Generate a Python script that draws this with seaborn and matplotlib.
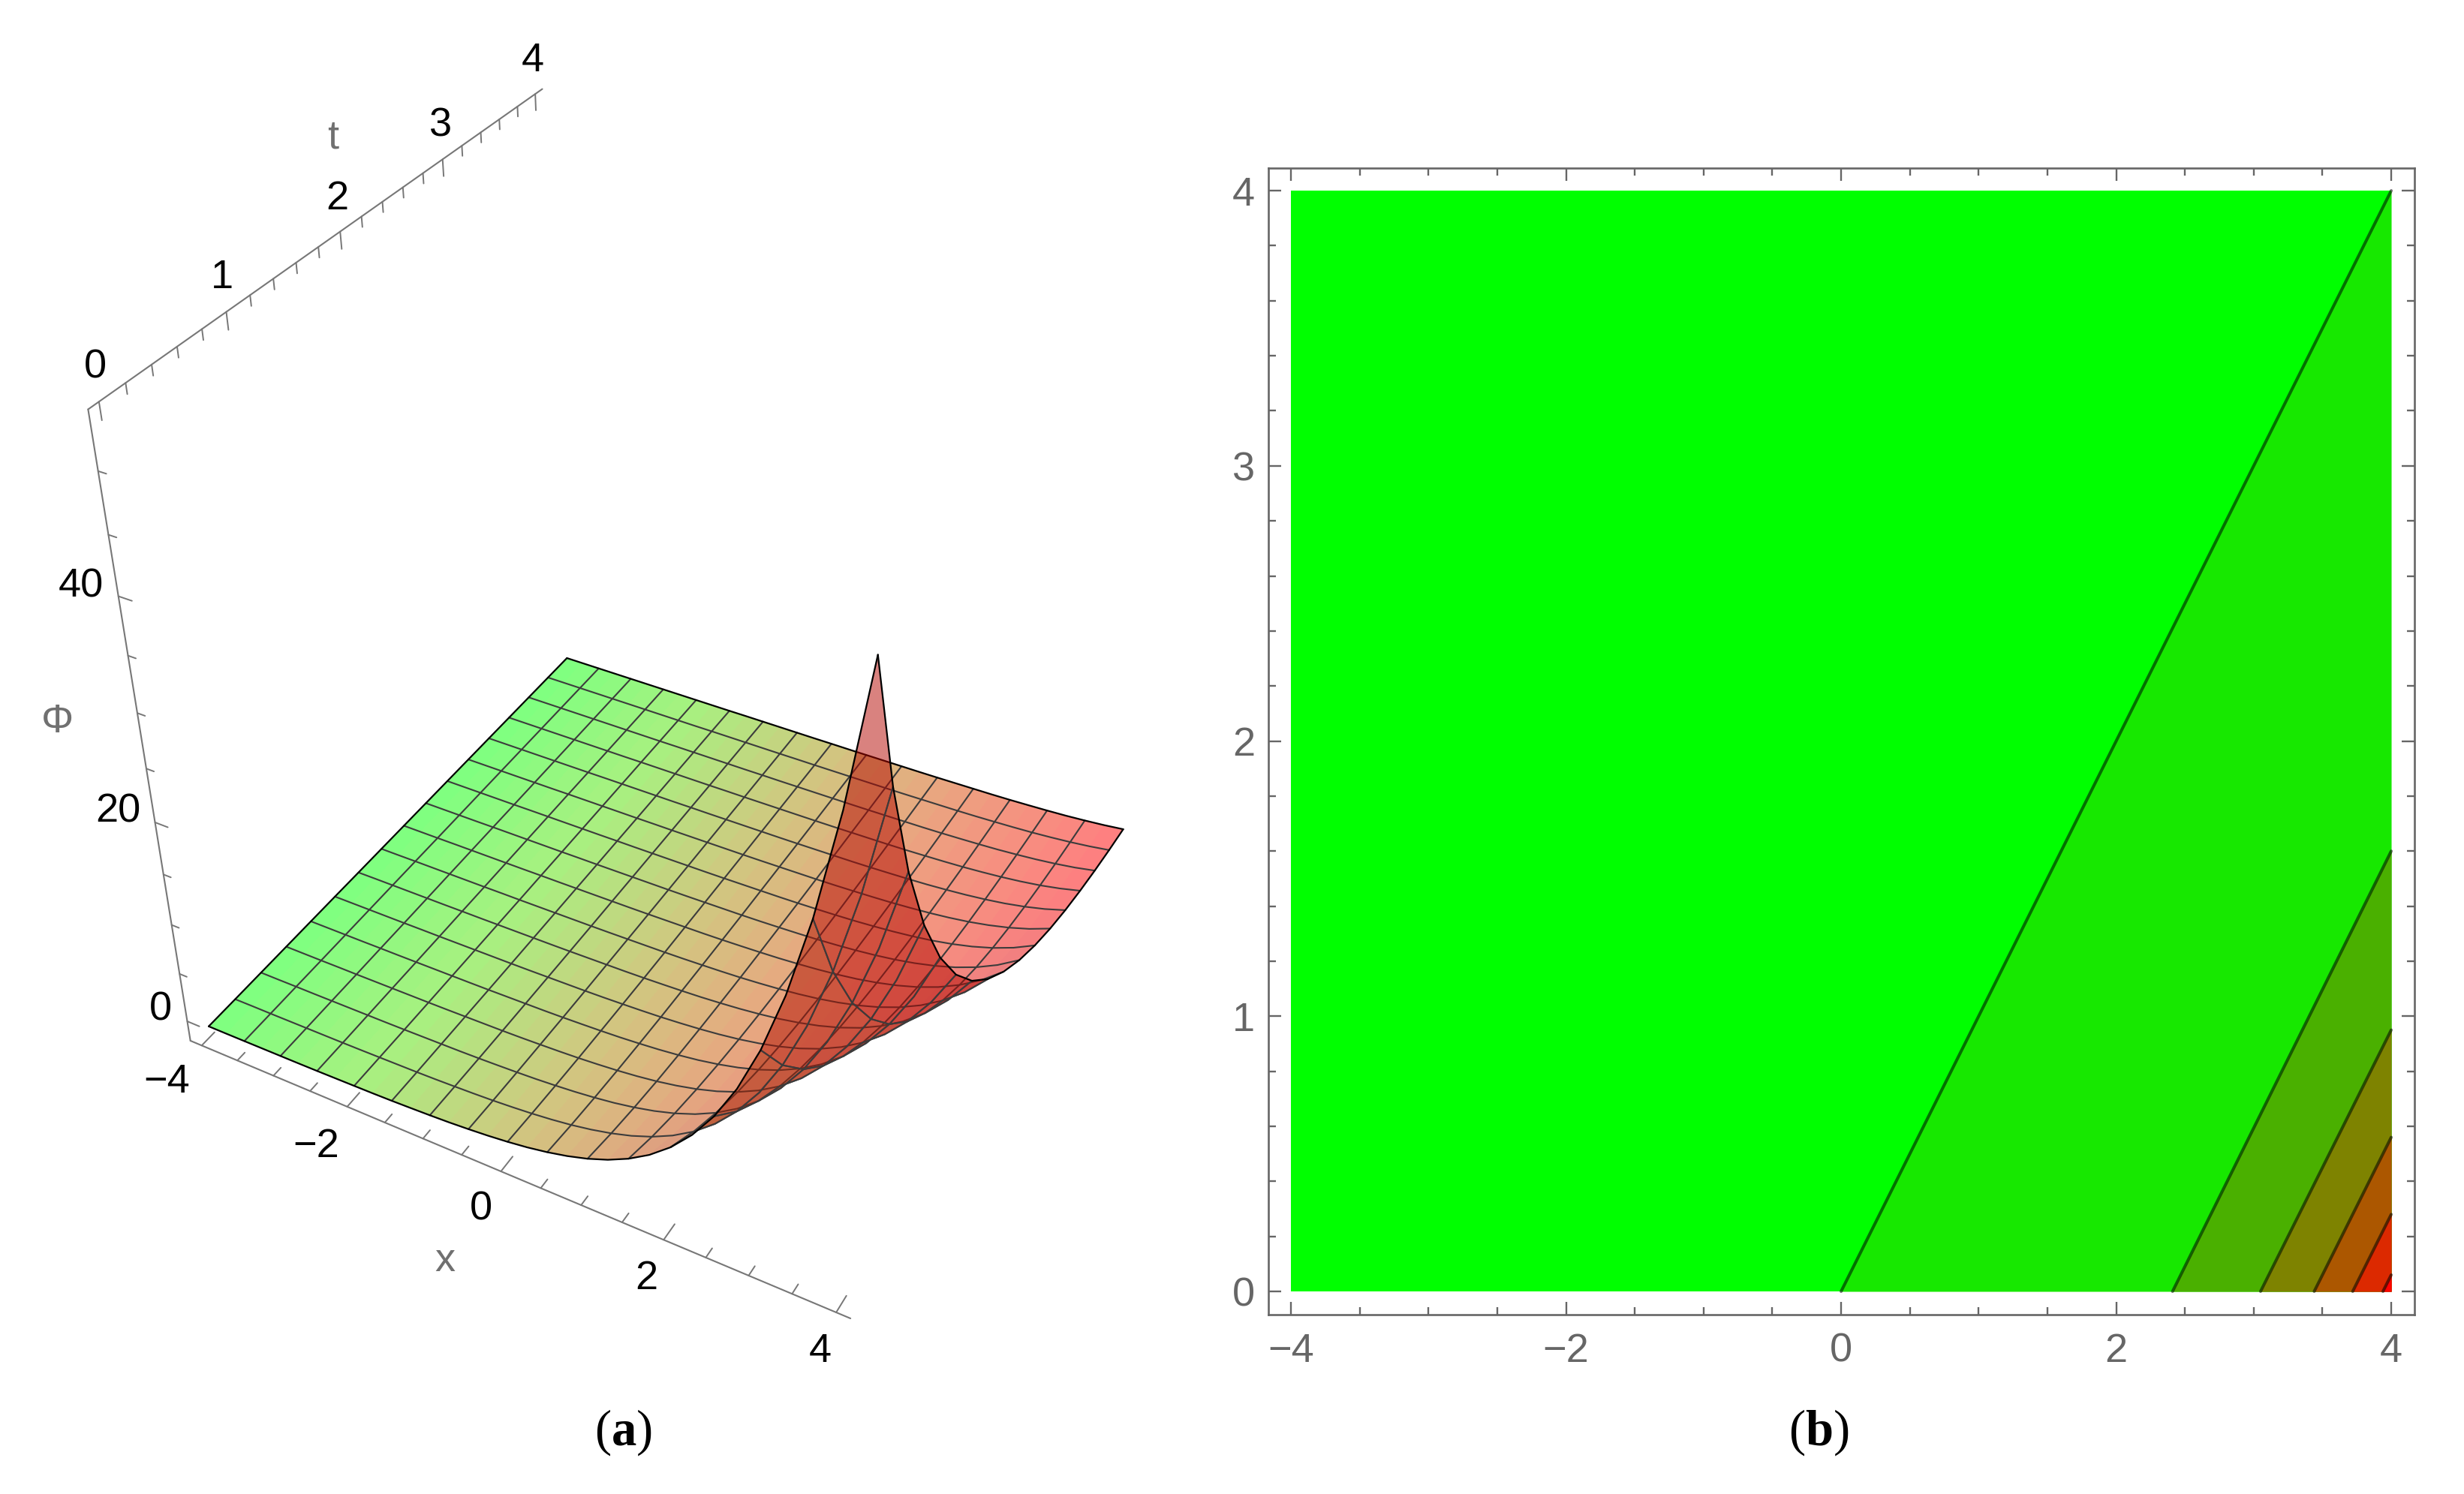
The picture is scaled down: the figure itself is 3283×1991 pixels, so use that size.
import numpy as np
import pandas as pd
import matplotlib
matplotlib.use("Agg")
import matplotlib.pyplot as plt
import seaborn as sns

# --- data ---
# phi as function of u = x - t, u runs -8 .. 4 in steps of 0.25
u_step = 0.25
u_start = -8.0
phi_of_u = [-1.00, -1.00, -1.00, -1.00, -1.00, -1.00, -1.00, -1.00, -1.00, -1.00, -1.00, -0.99,
            -0.99, -0.99, -0.99, -0.99, -0.98, -0.98, -0.97, -0.96, -0.95, -0.94, -0.92, -0.89,
            -0.86, -0.83, -0.78, -0.71, -0.63, -0.53, -0.39, -0.22, 0.00, 0.28, 0.65, 1.12,
            1.72, 2.49, 3.48, 4.75, 6.39, 8.49, 11.18, 14.64, 19.09, 24.79, 32.12, 41.52, 53.60]

x_grid = np.arange(-4, 4.01, 0.25)
t_grid = np.arange(0, 4.01, 0.25)
x_mesh = np.arange(-4, 4.01, 0.5)
t_mesh = np.arange(0, 4.01, 0.25)

# surface colour along x = -4, -2, 0, 2, 4
surface_colors = ["#00ff00", "#51e100", "#a19100", "#dc4100", "#ff0000"]

# contour panel: where each line meets t=0 and x=4
contour_x_at_t0 = [0.0, 2.41, 3.05, 3.44, 3.72, 3.94]
contour_t_at_x4 = [4.0, 1.60, 0.95, 0.56, 0.28, 0.06]
band_colors = ["#00ff00", "#17e800", "#4ab000", "#7e8300", "#ac5700", "#dc2900", "#ff0000"]

x_ticks_3d = np.arange(-4, 4.01, 0.5)
t_ticks_3d = np.arange(0, 4.01, 0.2)
phi_ticks_3d = np.arange(0, 50.1, 5)

x_labels_3d = ["\u22124", "\u22122", "0", "2", "4"]
t_labels_3d = ["0", "1", "2", "3", "4"]
phi_labels_3d = ["0", "20", "40"]
x_label_px = [(222, 1442), (421, 1528), (641, 1612), (861, 1704), (1093, 1801)]
t_label_px = [(127, 489), (296, 370), (449, 265), (587, 168), (710, 81)]
phi_label_px = [(214, 1345), (157, 1082), (108, 782)]

# box of the 3d plot
xlo, xhi = -4.16, 4.16
tlo, thi = -0.08, 4.08
plo, phi_hi = -2.09, 54.69

# camera calibration: box/surface landmarks and where they sit in the picture
calib_world = np.array([
    [xlo, tlo, plo], [xhi, tlo, plo], [xlo, tlo, phi_hi], [xlo, thi, phi_hi],
    [-4, 0, -0.98], [-4, 4, -1.0], [4, 0, 53.6], [4, 4, 0.0],
    [-2, tlo, plo], [0, tlo, plo], [2, tlo, plo],
    [xlo, 1, phi_hi], [xlo, 2, phi_hi], [xlo, 3, phi_hi],
    [xlo, tlo, 40], [xlo, tlo, 20], [xlo, tlo, 0],
])
calib_px = np.array([
    [253, 1387], [1133, 1758], [118, 544], [723, 118],
    [278, 1366], [755, 879], [1169, 875], [1497, 1103],
    [463, 1472], [668, 1562], [884, 1652],
    [302, 415], [453, 309], [589, 213],
    [158, 794], [206, 1096], [250, 1364],
], dtype=float)

W, H = 3283, 1991
sns.set_theme(style="white")
plt.rcParams["font.family"] = ["Liberation Sans", "DejaVu Sans"]
plt.rcParams["mathtext.fontset"] = "custom"
plt.rcParams["mathtext.rm"] = "Liberation Serif"
plt.rcParams["mathtext.bf"] = "Liberation Serif:bold"

fig = plt.figure(figsize=(W / 100, H / 100), dpi=100, facecolor="white")


def px_text(px, py, s, **kw):
    fig.text(px / W, 1 - py / H, s, ha="center", va="center", **kw)


# --- (a) surface ---
ax3 = fig.add_axes([0, 0, H / W, 1], projection="3d", computed_zorder=False)
ax3.set_axis_off()
ax3.apply_aspect()

# solve the camera (u, v, w) from the landmarks
rows, rhs = [], []
for (X, Y, Z), (u, v) in zip(calib_world, calib_px):
    rows.append([X, Y, Z, 1, 0, 0, 0, 0, -u * X, -u * Y, -u * Z])
    rows.append([0, 0, 0, 0, X, Y, Z, 1, -v * X, -v * Y, -v * Z])
    rhs += [u, v]
p = np.linalg.lstsq(np.array(rows), np.array(rhs), rcond=None)[0]
u_row, v_row, w_row = p[:4], p[4:8], np.r_[p[8:11], 1.0]

# picture pixels -> the 2d view limits of the 3d axes
inv = ax3.transData.inverted()
v00 = inv.transform((0, H))
v10 = inv.transform((1000, H))
v01 = inv.transform((0, H - 1000))
M = np.array([
    v00[0] * w_row + (v10[0] - v00[0]) / 1000 * u_row,
    v00[1] * w_row + (v01[1] - v00[1]) / 1000 * v_row,
    [0, 0, 0, -1.0],
    w_row,
])
ax3.get_proj = lambda: M

X, T = np.meshgrid(x_grid, t_grid)
idx = np.rint((X - T - u_start) / u_step).astype(int)
Phi = np.array(phi_of_u)[idx]

# cells seen from underneath (the fold in front) stay see-through, the sheet behind
# them is painted flat so that its small faces leave no seams
hom = np.stack([X, T, Phi, np.ones_like(X)], axis=-1)
pw = hom @ w_row
pu = (hom @ u_row / pw)[:, ::2]
pv = (hom @ v_row / pw)[:, ::2]
area = ((pu[:-1, :-1] * pv[:-1, 1:] - pu[:-1, 1:] * pv[:-1, :-1])
        + (pu[:-1, 1:] * pv[1:, 1:] - pu[1:, 1:] * pv[:-1, 1:])
        + (pu[1:, 1:] * pv[1:, :-1] - pu[1:, :-1] * pv[1:, 1:])
        + (pu[1:, :-1] * pv[:-1, :-1] - pu[:-1, :-1] * pv[1:, :-1]))
flipped = np.repeat(area * area[-1, 0] < 0, 2, axis=1)

pal = np.array(sns.blend_palette(surface_colors, n_colors=len(x_grid) - 1))
slope = np.diff(Phi, axis=1)[:-1, :] / 0.25 * 8 / 57
shade = 1 - 0.3 * (1 - 1 / (1 + slope ** 2))
base = pal[None, :, :] * shade[..., None]

fc_back = np.zeros(shade.shape + (4,))
fc_back[..., :3] = 0.5 * base + 0.5
fc_back[..., 3] = ~flipped
ax3.plot_surface(X, T, Phi, facecolors=fc_back, rstride=1, cstride=1, shade=False,
                 linewidth=0, antialiased=False, zorder=1)

fc_front = np.zeros(shade.shape + (4,))
fc_front[..., :3] = pal[None, :, :] * 0.72
fc_front[..., 3] = 0.5 * flipped
ax3.plot_surface(X, T, Phi, facecolors=fc_front, rstride=1, cstride=2, shade=False,
                 linewidth=0, antialiased=False, zorder=1.5)


def front_only(zs, seg_front):
    # keep the vertices that touch a segment on the front sheet
    keep = np.r_[seg_front, False] | np.r_[False, seg_front]
    return np.where(keep, zs, np.nan)


# every mesh line goes under the see-through sheet, the front parts again on top of it
mesh_color = "#3c3c3c"
for xm in x_mesh[1:-1]:
    j = np.argmin(abs(x_grid - xm))
    ax3.plot(X[:, j], T[:, j], Phi[:, j], color=mesh_color, lw=1.5, zorder=1.2)
    seg = flipped[:, j - 1] | flipped[:, j]
    ax3.plot(X[:, j], T[:, j], front_only(Phi[:, j], seg), color=mesh_color, lw=1.5, zorder=2)
for tm in t_mesh[1:-1]:
    i = np.argmin(abs(t_grid - tm))
    ax3.plot(X[i], T[i], Phi[i], color=mesh_color, lw=1.5, zorder=1.2)
    seg = flipped[i - 1] | flipped[i]
    ax3.plot(X[i], T[i], front_only(Phi[i], seg), color=mesh_color, lw=1.5, zorder=2)

ax3.plot(X[:, 0], T[:, 0], Phi[:, 0], color="black", lw=1.6, zorder=1.3)
ax3.plot(X[-1], T[-1], Phi[-1], color="black", lw=1.6, zorder=1.3)
ax3.plot(X[:, -1], T[:, -1], Phi[:, -1], color="black", lw=1.6, zorder=3)
ax3.plot(X[0], T[0], Phi[0], color="black", lw=1.6, zorder=3)

axis_color = "#777777"
ax3.plot([xlo, xhi], [tlo, tlo], [plo, plo], color=axis_color, lw=1.5, zorder=4)
ax3.plot([xlo, xlo], [tlo, tlo], [plo, phi_hi], color=axis_color, lw=1.5, zorder=4)
ax3.plot([xlo, xlo], [tlo, thi], [phi_hi, phi_hi], color=axis_color, lw=1.5, zorder=4)
for v in x_ticks_3d:
    L = 0.12 if abs(v % 2) < 1e-6 else 0.07
    ax3.plot([v, v], [tlo, tlo + L], [plo, plo], color=axis_color, lw=1.4, zorder=4)
for v in t_ticks_3d:
    L = 1.4 if abs(v - round(v)) < 1e-6 else 0.85
    ax3.plot([xlo, xlo], [v, v], [phi_hi, phi_hi - L], color=axis_color, lw=1.4, zorder=4)
for v in phi_ticks_3d:
    L = 0.17 if v % 20 == 0 else 0.1
    ax3.plot([xlo, xlo + L], [tlo, tlo], [v, v], color=axis_color, lw=1.4, zorder=4)

fs = 39
for (px, py), s in zip(x_label_px + t_label_px + phi_label_px,
                       x_labels_3d + t_labels_3d + phi_labels_3d):
    px_text(px, py, s, fontsize=fs, color="black")
px_text(593, 1680, "x", fontsize=fs, color="#707070")
px_text(444, 183, "t", fontsize=fs, color="#707070")
px_text(76, 962, "\u03a6", fontsize=fs, color="#707070")

# --- (b) contours ---
left, right, top, bottom = 1690, 3217, 224, 1752
ax = fig.add_axes([left / W, 1 - bottom / H, (right - left) / W, (bottom - top) / H])
ax.fill_between([-4, 4], [0, 0], [4, 4], color=band_colors[0], lw=0)
for x0, t4, col in zip(contour_x_at_t0, contour_t_at_x4, band_colors[1:]):
    ax.fill_between([x0, 4], [0, 0], [0, t4], color=col, lw=0)

lines = pd.DataFrame({
    "x": [v for x0 in contour_x_at_t0 for v in (x0, 4.0)],
    "t": [v for t4 in contour_t_at_x4 for v in (0.0, t4)],
    "level": [i for i in range(len(contour_x_at_t0)) for _ in range(2)],
})
sns.lineplot(data=lines, x="x", y="t", units="level", estimator=None, sort=False,
             color="black", alpha=0.55, linewidth=2.9, legend=False, ax=ax)

ax.set_xlim(-4.164, 4.169)
ax.set_ylim(-0.0845, 4.082)
ax.set_xlabel("")
ax.set_ylabel("")
ax.set_xticks([-4, -2, 0, 2, 4], ["\u22124", "\u22122", "0", "2", "4"])
ax.set_yticks([0, 1, 2, 3, 4], ["0", "1", "2", "3", "4"])
ax.set_xticks(np.arange(-4, 4.01, 0.5), minor=True)
ax.set_yticks(np.arange(0, 4.01, 0.2), minor=True)
gray = "#666666"
ax.tick_params(which="both", direction="in", top=True, right=True, bottom=True, left=True,
               color=gray, labelcolor=gray, labelsize=fs)
ax.tick_params(which="major", length=12.2, width=1.7)
ax.tick_params(which="minor", length=7.2, width=1.7)
ax.tick_params(axis="x", which="major", pad=17)
ax.tick_params(axis="y", which="major", pad=13)
for s in ax.spines.values():
    s.set_color(gray)
    s.set_linewidth(1.9)
    s.set_visible(True)

px_text(830, 1909, r"($\mathbf{a}$)", fontsize=48, color="black", family="Liberation Serif")
px_text(2423, 1909, r"($\mathbf{b}$)", fontsize=48, color="black", family="Liberation Serif")

fig.savefig("out.png", dpi=100, facecolor="white")
